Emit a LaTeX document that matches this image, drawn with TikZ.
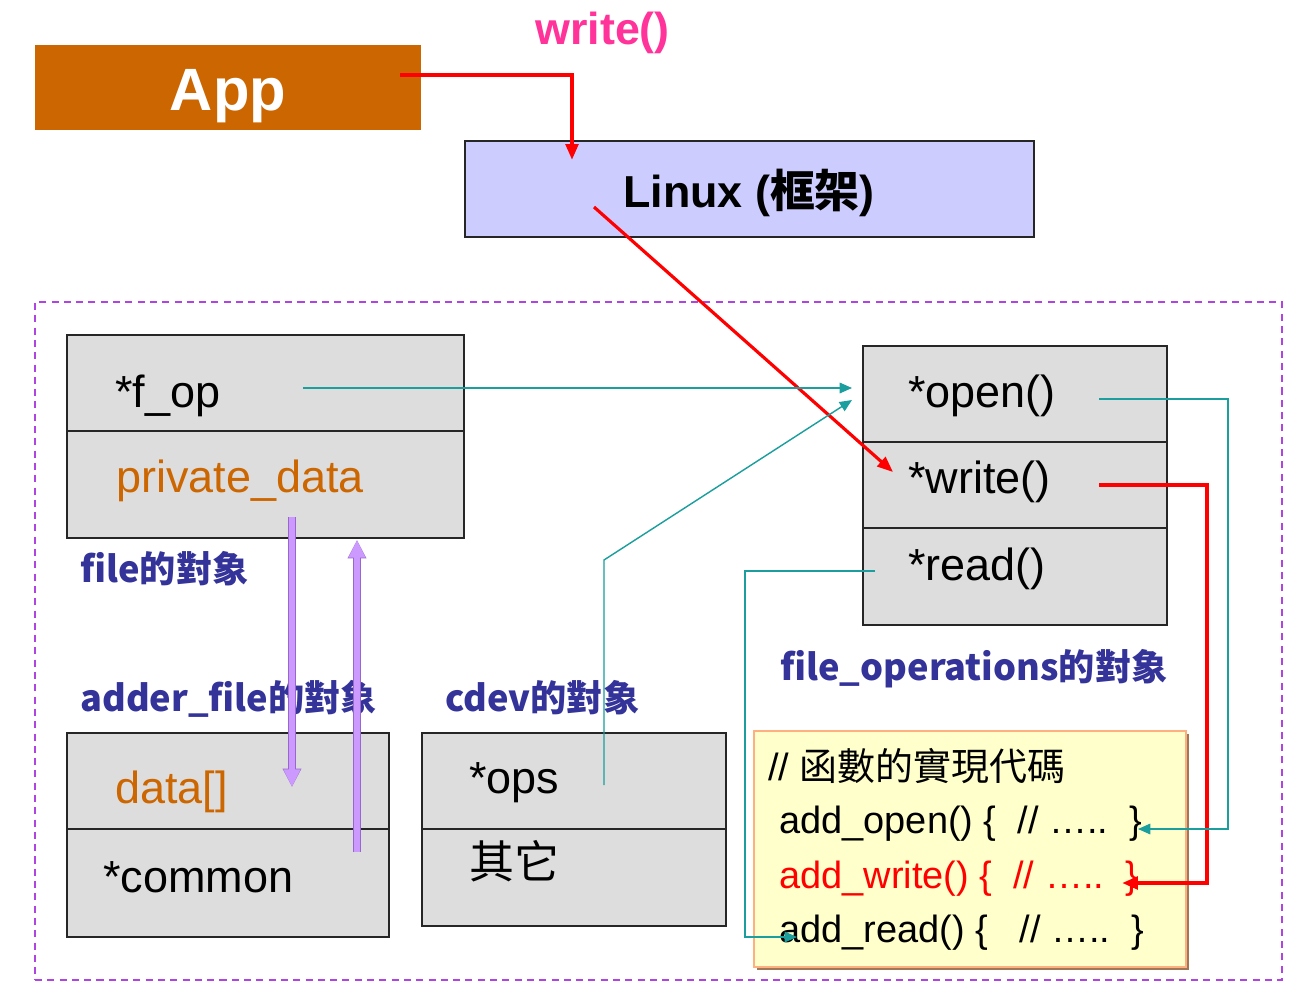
\documentclass[tikz,border=0pt]{standalone}
\usepackage{fontspec}
\setmainfont{Liberation Sans}
\newfontfamily\cjk{Noto Sans CJK TC}
\usetikzlibrary{arrows.meta,fit}
\definecolor{appc}{HTML}{CC6600}
\definecolor{pinkc}{HTML}{FF3399}
\definecolor{linuxc}{HTML}{CCCCFF}
\definecolor{boxgray}{HTML}{DDDDDD}
\definecolor{orangetxt}{HTML}{CC6600}
\definecolor{lblblue}{HTML}{333399}
\definecolor{tealc}{HTML}{1A9E9E}
\definecolor{dashc}{HTML}{B044E0}
\definecolor{codefill}{HTML}{FFFFCC}
\definecolor{codeedge}{HTML}{FFB080}
\definecolor{shadowc}{HTML}{A07858}
\definecolor{lavc}{HTML}{CC99FF}
\definecolor{lavdark}{HTML}{9966CC}
\tikzset{
  gbox/.style={draw=black!85, fill=boxgray, line width=1pt, inner sep=0pt},
  tbig/.style={anchor=base west, inner sep=0pt, font=\fontsize{25.6}{30}\selectfont},
  lbl/.style={anchor=base west, inner sep=0pt, text=lblblue, font=\cjk\bfseries\fontsize{20.6}{25}\selectfont},
  codetxt/.style={anchor=base west, inner sep=0pt, font=\fontsize{21.6}{26}\selectfont},
  tealarrow/.style={draw=tealc, line width=0.8pt, -{Triangle[length=7pt,width=6pt]}},
  redarrow/.style={draw=red, line width=2.2pt, -{Triangle[length=9pt,width=7pt]}},
  lavarrow/.style={draw=lavc, line width=3.2pt, -{Triangle[length=10pt,width=9pt]},
    preaction={draw=lavdark, line width=4pt, -{Triangle[length=10.5pt,width=10pt]}}}
}
\begin{document}
\begin{tikzpicture}[x=0.02cm,y=-0.02cm]
\useasboundingbox (0,0) rectangle (1298,1004);
\fill[white] (0,0) rectangle (1298,1004);

% dashed frame
\node[draw=dashc, dashed, dash pattern=on 4pt off 3pt, line width=0.9pt, inner sep=0pt, fit={(35,302) (1282,980)}] (frame) {};

% App
\node[fill=appc, inner sep=0pt, fit={(35,45) (421,130)}] (app) {};
\node[anchor=base, inner sep=0pt, text=white, font=\bfseries\fontsize{34}{40}\selectfont] (apptxt) at (228,110) {App};
\node[anchor=base west, inner sep=0pt, text=pinkc, font=\bfseries\fontsize{25.5}{30}\selectfont] (writelbl) at (535,44) {write()};

% Linux
\node[draw=black!85, fill=linuxc, line width=1pt, inner sep=0pt, fit={(465,141) (1034,237)}] (linux) {};
\node[anchor=base west, inner sep=0pt, font=\fontsize{25.5}{30}\selectfont] (linuxtxt) at (623,207) {\bfseries Linux (\cjk\bfseries 框架\normalfont\bfseries )};

% file object
\node[gbox, fit={(67,335) (464,431)}] (filetop) {};
\node[gbox, fit={(67,431) (464,538)}] (filebot) {};
\node[tbig] (fop) at (115,407) {*f\_op};
\node[tbig, text=orangetxt] (pdata) at (116,492) {private\_data};
\node[lbl] (filelbl) at (80,582) {file的對象};

% file_operations object
\node[gbox, fit={(863,346) (1167,442)}] (fo1) {};
\node[gbox, fit={(863,442) (1167,528)}] (fo2) {};
\node[gbox, fit={(863,528) (1167,625)}] (fo3) {};
\node[tbig] (open) at (908,407) {*open()};
\node[tbig] (write) at (908,493) {*write()};
\node[tbig] (read) at (908,580) {*read()};
\node[lbl] (folbl) at (780,680) {file\_operations的對象};

% adder_file object
\node[gbox, fit={(67,733) (389,829)}] (ad1) {};
\node[gbox, fit={(67,829) (389,937)}] (ad2) {};
\node[tbig, text=orangetxt] (data) at (115,803) {data[]};
\node[tbig] (common) at (103,892) {*common};
\node[lbl] (adlbl) at (80,711) {adder\_file的對象};

% cdev object
\node[gbox, fit={(422,733) (726,829)}] (cd1) {};
\node[gbox, fit={(422,829) (726,926)}] (cd2) {};
\node[tbig] (ops) at (469,793) {*ops};
\node[tbig] (other) at (469,878) {\cjk 其它};
\node[lbl] (cdlbl) at (445,711) {cdev的對象};

% code box
\fill[shadowc] (757,734) rectangle (1189,970);
\node[draw=codeedge, fill=codefill, line width=1.2pt, inner sep=0pt, fit={(754,731) (1186,967)}] (code) {};
\node[codetxt] (c0) at (768,780) {// {\cjk 函數的實現代碼}};
\node[codetxt] (c1) at (779,833) {add\_open() \{\ \ // …..\ \ \}};
\node[codetxt, text=red] (c2) at (779,888) {add\_write() \{\ \ // …..\ \ \}};
\node[codetxt] (c3) at (779,942) {add\_read() \{\ \ \ // …..\ \ \}};

% coordinates for connectors
\coordinate (appout) at (400,75);
\coordinate (linuxin) at (572,160);
\coordinate (linuxout) at (594,207);
\coordinate (writein) at (893,472);
\coordinate (fopout) at (303,388);
\coordinate (openin1) at (852,388);
\coordinate (opsout) at (604,785);
\coordinate (openin2) at (852,400);
\coordinate (openout) at (1099,399);
\coordinate (c1in) at (1138,829);
\coordinate (readout) at (875,571);
\coordinate (c3in) at (797,937);
\coordinate (writeout) at (1099,485);
\coordinate (c2in) at (1122,883);
\coordinate (pdout) at (292,517);
\coordinate (datain) at (292,787);
\coordinate (commonout) at (357,852);
\coordinate (pdin) at (357,540);

% red connectors
\draw[redarrow] (appout) -| (linuxin);
\draw[redarrow, line width=1.8pt] (linuxout) -- (writein);
\draw[redarrow] (writeout) -- (1207,485) |- (c2in);

% teal connectors
\draw[tealarrow] (fopout) -- (openin1);
\draw[tealarrow] (opsout) -- (604,560) -- (openin2);
\draw[tealarrow] (openout) -- (1228,399) |- (c1in);
\draw[tealarrow] (readout) -- (745,571) |- (c3in);

% lavender arrows
\draw[lavarrow] (pdout) -- (datain);
\draw[lavarrow] (commonout) -- (pdin);
\end{tikzpicture}
\end{document}
